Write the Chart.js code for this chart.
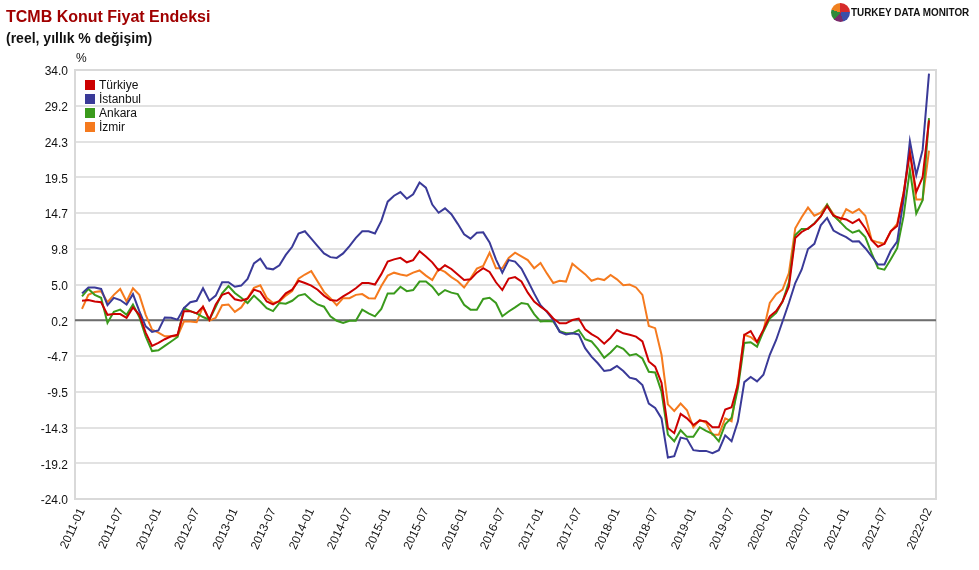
<!DOCTYPE html>
<html>
<head>
<meta charset="utf-8">
<script src="https://cdn.jsdelivr.net/npm/chart.js@4"></script>
<style>
  body { margin: 0; background: #fff; font-family: "Liberation Sans", Arial, sans-serif; }
  #wrap { position: relative; width: 979px; height: 570px; }
  canvas { position: absolute; left: 0; top: 0; }
  .title { position: absolute; left: 6px; top: 8px; font-size: 16px; font-weight: bold; color: #a00000; }
  .sub { position: absolute; left: 6px; top: 30px; font-size: 14px; font-weight: bold; color: #111; }
  .unit { position: absolute; left: 76px; top: 51px; font-size: 12px; color: #111; }
  .logo { position: absolute; left: 831px; top: 3px; height: 19px; }
  .pie { position: absolute; left: 0; top: 0; width: 19px; height: 19px; border-radius: 50%;
    background: conic-gradient(#d62a2a 0 25%, #3a4fa8 25% 45%, #7a2a6a 45% 62%, #2e8a3a 62% 80%, #f08020 80% 100%); }
  .logo span { position: absolute; left: 20px; top: 3px; font-size: 11px; font-weight: bold; color: #111;
    white-space: nowrap; transform: scaleX(0.9); transform-origin: left center; }
</style>
</head>
<body>
<div id="wrap">
  <canvas id="chart" width="979" height="570"></canvas>
  <div class="title">TCMB Konut Fiyat Endeksi</div>
  <div class="sub">(reel, yıllık % değişim)</div>
  <div class="unit">%</div>
  <div class="logo"><div class="pie"></div><span>TURKEY DATA MONITOR</span></div>
</div>
<script>
// aylar: 2011-01 .. 2022-02
const months = [];
for (let y = 2011; y <= 2022; y++) {
  for (let m = 1; m <= 12; m++) {
    if (y === 2022 && m > 2) break;
    months.push(y + '-' + (m < 10 ? '0' + m : m));
  }
}

const seriesNames = ['Türkiye', 'İstanbul', 'Ankara', 'İzmir'];
const seriesColors = ['#cc0000', '#3a3a98', '#3a9a1c', '#f57a1e'];

const turkiye = [
  2.8, 2.9, 2.7, 2.6, 0.9, 1.0, 1.0, 0.5, 1.9, 0.9, -1.5, -3.3, -2.9, -2.4, -2.0, -1.8, 1.4, 1.4, 1.1, 2.0, 0.25, 2.3, 3.6, 3.9, 3.0,
  2.8, 3.1, 4.3, 4.0, 2.7, 2.3, 2.8, 3.8, 4.3, 5.5, 5.2, 4.85, 4.3, 3.5, 2.9, 2.8, 3.4, 3.9, 4.5, 5.2, 5.2, 5.0, 6.4, 8.1,
  8.4, 8.6, 8.0, 8.3, 9.5, 8.8, 8.0, 6.9, 7.6, 7.1, 6.35, 5.6, 5.7, 6.6, 7.2, 6.7, 5.3, 4.25, 5.8, 6.0, 5.4, 3.9, 2.7, 2.0,
  1.4, 0.4, -0.25, -0.25, 0.2, 0.4, -1.05, -1.7, -2.2, -3.0, -2.2, -1.15, -1.6, -1.8, -2.05, -2.7, -5.4, -6.1, -8.3, -14.4, -15.1, -12.5, -13.1, -14.0, -13.4,
  -13.5, -14.3, -14.3, -11.9, -11.6, -8.5, -1.8, -1.3, -2.8, -1.1, 0.7, 1.4, 2.7, 4.7, 11.3, 12.1, 12.6, 13.2, 14.2, 15.6, 14.3, 14.0, 13.8, 13.3, 13.8,
  12.6, 11.0, 10.1, 10.5, 12.2, 12.9, 17.3, 22.8, 17.5, 19.5, 27.2
];
const istanbul = [
  3.8, 4.6, 4.6, 4.4, 2.2, 3.2, 2.9, 2.3, 3.7, 1.4, -0.65, -1.4, -1.2, 0.55, 0.5, 0.25, 1.8, 2.6, 2.8, 4.5, 2.8, 3.5, 5.3, 5.3, 4.7,
  4.85, 5.75, 7.85, 8.5, 7.2, 7.05, 7.6, 9.0, 10.1, 11.9, 12.2, 11.2, 10.2, 9.2, 8.7, 8.6, 9.2, 10.2, 11.3, 12.2, 12.2, 11.9, 13.6, 16.2,
  17.0, 17.5, 16.6, 17.2, 18.8, 18.1, 15.8, 14.7, 15.3, 14.5, 13.2, 11.8, 11.2, 12.0, 12.05, 10.7, 8.4, 6.6, 8.3, 8.1, 7.15, 5.5, 3.8, 2.2,
  1.3, 0.2, -1.4, -1.75, -1.6, -1.75, -3.6, -4.75, -5.65, -6.7, -6.55, -6.0, -6.7, -7.6, -7.8, -8.6, -11.1, -11.7, -13.1, -18.4, -18.2, -15.7, -15.9, -17.4, -17.5,
  -17.5, -17.8, -17.4, -15.4, -16.2, -13.5, -8.2, -7.5, -8.1, -7.2, -4.5, -2.5, 0.0, 2.5, 5.2, 7.0, 9.8, 10.5, 13.0, 14.0, 12.3, 11.8, 11.4, 10.8, 10.85,
  9.9, 8.8, 7.7, 7.7, 9.6, 10.8, 16.4, 24.4, 19.8, 23.2, 33.5
];
const ankara = [
  3.4, 4.4, 3.6, 3.2, -0.2, 1.3, 1.6, 0.9, 2.3, 0.6, -2.0, -4.0, -3.9, -3.3, -2.7, -2.1, 1.8, 1.4, 1.1, 0.6, 0.25, 2.0, 3.8, 4.8, 3.85,
  3.2, 2.5, 3.5, 2.7, 1.8, 1.4, 2.5, 2.4, 2.8, 3.5, 3.7, 2.9, 2.3, 2.0, 0.7, 0.1, -0.2, 0.1, 0.1, 1.6, 1.1, 0.7, 1.7, 3.8,
  3.8, 4.7, 4.1, 4.25, 5.4, 5.4, 4.7, 3.6, 4.25, 3.9, 3.7, 2.25, 1.6, 1.6, 3.05, 3.2, 2.5, 0.7, 1.35, 1.9, 2.5, 2.35, 1.0, 0.0,
  0.05, 0.0, -1.3, -1.6, -1.6, -1.15, -2.4, -2.7, -3.7, -4.9, -4.2, -3.3, -3.7, -4.6, -4.4, -5.0, -6.8, -6.9, -9.5, -15.3, -16.2, -14.7, -15.6, -15.6, -14.3,
  -14.8, -15.2, -16.2, -13.9, -13.0, -9.0, -2.9, -2.8, -3.4, -1.35, 0.4, 1.15, 2.7, 5.3, 11.7, 12.5, 12.5, 13.3, 14.2, 15.8, 14.3, 13.5, 12.6, 12.0, 12.3,
  11.4, 9.2, 7.2, 7.0, 8.4, 9.9, 14.2, 20.5, 14.6, 16.4, 27.5
];
const izmir = [
  1.7, 3.6, 4.0, 4.1, 2.6, 3.6, 4.4, 2.7, 4.5, 3.6, 0.9, -1.1, -1.5, -2.0, -2.0, -2.0, 0.0, 0.0, -0.1, 2.0, 0.1, 0.5, 2.2, 2.3, 1.3,
  1.9, 3.15, 4.55, 4.9, 3.2, 2.5, 2.7, 3.5, 4.1, 5.8, 6.35, 6.8, 5.4, 4.0, 3.15, 2.2, 3.15, 3.15, 3.6, 3.7, 3.15, 3.1, 4.8, 6.2,
  6.6, 6.35, 6.2, 6.6, 6.9, 6.2, 5.6, 7.1, 6.7, 6.0, 5.45, 4.6, 5.8, 7.15, 7.5, 9.3, 7.2, 7.2, 8.6, 9.3, 8.8, 8.3, 7.2, 7.9,
  6.5, 5.2, 5.5, 5.4, 7.8, 7.1, 6.4, 5.5, 5.8, 5.6, 6.3, 5.7, 4.9, 5.0, 4.6, 3.6, -0.6, -0.9, -4.5, -11.2, -12.1, -11.1, -12.0, -14.3, -13.3,
  -13.7, -15.3, -15.3, -13.1, -13.5, -8.1, -1.8, -2.1, -2.8, -1.25, 2.5, 3.7, 4.3, 6.55, 12.6, 14.1, 15.4, 14.3, 14.7, 15.8, 14.5, 13.5, 15.2, 14.7, 15.2,
  14.3, 11.0, 10.7, 10.5, 12.2, 13.2, 17.3, 23.1, 16.5, 16.5, 23.1
];

// eksen etiketleri
const xTickIdx = [0, 6, 12, 18, 24, 30, 36, 42, 48, 54, 60, 66, 72, 78, 84, 90, 96, 102, 108, 114, 120, 126, 133];
const yTickLabels = ['-24.0', '-19.2', '-14.3', '-9.5', '-4.7', '0.2', '5.0', '9.8', '14.7', '19.5', '24.3', '29.2', '34.0'];
const yMin = -24, yMax = 34;
const yTicks = yTickLabels.map((_, i) => yMin + i * (yMax - yMin) / (yTickLabels.length - 1));

const allSeries = [turkiye, istanbul, ankara, izmir];

const FONT = '"Liberation Sans", Arial, sans-serif';

const framePlugin = {
  id: 'frame',
  beforeDatasetsDraw(chart) {
    const a = chart.chartArea, ctx = chart.ctx;
    ctx.save();
    ctx.strokeStyle = '#d9d9d9';
    ctx.lineWidth = 2;
    ctx.strokeRect(a.left, a.top, a.right - a.left, a.bottom - a.top);
    // 0.2 çizgisi koyu
    const y = chart.scales.y.getPixelForValue(yTicks[5]);
    ctx.strokeStyle = '#6e6e6e';
    ctx.beginPath();
    ctx.moveTo(a.left, y);
    ctx.lineTo(a.right, y);
    ctx.stroke();
    ctx.restore();
  }
};

const legendPlugin = {
  id: 'boxLegend',
  afterDraw(chart) {
    const ctx = chart.ctx;
    ctx.save();
    ctx.font = '12px ' + FONT;
    ctx.textBaseline = 'middle';
    chart.data.datasets.forEach((ds, i) => {
      const top = 80 + i * 14;
      ctx.fillStyle = ds.borderColor;
      ctx.fillRect(85, top, 10, 10);
      ctx.fillStyle = '#111';
      ctx.fillText(ds.label, 99, top + 5.5);
    });
    ctx.restore();
  }
};

new Chart(document.getElementById('chart').getContext('2d'), {
  type: 'line',
  data: {
    datasets: allSeries.map((s, k) => ({
      label: seriesNames[k],
      data: s.map((v, i) => ({ x: i, y: v })),
      borderColor: seriesColors[k],
      backgroundColor: seriesColors[k],
      borderWidth: 2,
      pointRadius: 0,
      tension: 0,
      fill: false
    }))
  },
  options: {
    responsive: false,
    animation: false,
    events: [],
    layout: { padding: { top: 70, right: 43, left: 0, bottom: 0 } },
    plugins: {
      legend: { display: false },
      title: { display: false },
      tooltip: { enabled: false }
    },
    scales: {
      x: {
        type: 'linear',
        min: -1.1,
        max: 134.1,
        afterBuildTicks: (scale) => { scale.ticks = xTickIdx.map(v => ({ value: v })); },
        afterFit: (scale) => { scale.height = 71; },
        grid: { display: false, drawTicks: false },
        border: { display: false },
        ticks: {
          autoSkip: false,
          maxRotation: 65,
          minRotation: 65,
          padding: 7,
          color: '#111',
          font: { family: FONT, size: 12 },
          callback: (v) => months[v]
        }
      },
      y: {
        min: yMin,
        max: yMax,
        afterBuildTicks: (scale) => { scale.ticks = yTicks.map(v => ({ value: v })); },
        afterFit: (scale) => { scale.width = 75; },
        grid: { color: '#e2e2e2', lineWidth: 2, drawTicks: false },
        border: { display: false },
        ticks: {
          padding: 7,
          labelOffset: 2,
          color: '#111',
          font: { family: FONT, size: 12 },
          callback: (v, i) => yTickLabels[i]
        }
      }
    }
  },
  plugins: [framePlugin, legendPlugin]
});
</script>
</body>
</html>
